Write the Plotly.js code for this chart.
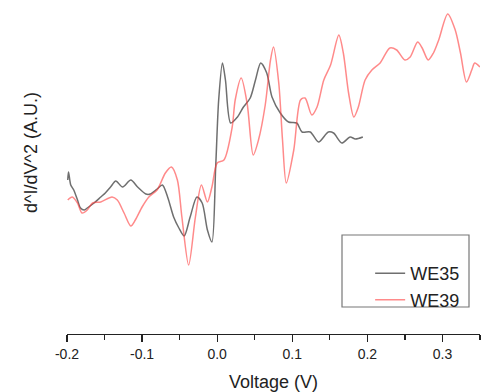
<!DOCTYPE html>
<html>
<head>
<meta charset="utf-8">
<script src="https://cdn.plot.ly/plotly-3.0.1.min.js"></script>
<style>html,body{margin:0;padding:0;background:#fff;}#chart{width:483px;height:392px;}</style>
</head>
<body>
<div id="chart"></div>
<script>
// WE35 (gray) — voltage (V) and d^2I/dV^2 (A.U.)
const we35V = [-0.199,-0.198,-0.195,-0.191,-0.186,-0.182,-0.177,-0.173,-0.164,-0.155,-0.149,-0.142,-0.135,-0.126,-0.115,-0.106,-0.095,-0.089,-0.080,-0.073,-0.066,-0.058,-0.051,-0.044,-0.036,-0.027,-0.020,-0.013,-0.007,-0.002,0.002,0.007,0.011,0.018,0.027,0.035,0.044,0.051,0.058,0.066,0.073,0.084,0.095,0.106,0.113,0.124,0.135,0.148,0.155,0.166,0.177,0.184,0.194];
const we35Y = [1.54,1.62,1.49,1.44,1.34,1.26,1.24,1.26,1.31,1.37,1.41,1.47,1.53,1.47,1.54,1.47,1.40,1.40,1.45,1.49,1.37,1.17,1.06,0.98,1.17,1.37,1.31,1.04,0.92,1.67,2.34,2.71,2.54,2.11,2.17,2.27,2.36,2.54,2.71,2.61,2.37,2.21,2.12,2.11,2.02,2.02,1.92,2.02,2.01,1.91,1.97,1.95,1.97];

// WE39 (red)
const we39V = [-0.199,-0.193,-0.186,-0.180,-0.173,-0.166,-0.155,-0.140,-0.133,-0.124,-0.115,-0.109,-0.100,-0.091,-0.080,-0.069,-0.061,-0.053,-0.047,-0.038,-0.029,-0.021,-0.013,-0.007,0.000,0.009,0.020,0.024,0.032,0.040,0.048,0.055,0.064,0.071,0.075,0.082,0.087,0.092,0.102,0.111,0.117,0.126,0.133,0.142,0.151,0.162,0.168,0.175,0.182,0.188,0.197,0.206,0.217,0.230,0.239,0.250,0.257,0.267,0.273,0.281,0.288,0.295,0.307,0.317,0.324,0.332,0.339,0.343,0.350];
const we39Y = [1.34,1.37,1.31,1.21,1.24,1.31,1.32,1.37,1.34,1.21,1.08,1.14,1.27,1.37,1.44,1.61,1.67,1.54,1.17,0.69,1.17,1.49,1.32,1.47,1.71,1.74,2.07,2.34,2.56,2.30,1.79,1.94,2.29,2.74,2.87,2.51,1.94,1.51,1.84,2.34,2.36,2.19,2.27,2.54,2.69,2.99,2.81,2.41,2.17,2.27,2.54,2.64,2.71,2.86,2.84,2.74,2.77,2.92,2.86,2.74,2.81,2.94,3.20,3.04,2.81,2.52,2.64,2.71,2.67];

const tickVals = [-0.2,-0.1,0.0,0.1,0.2,0.3];
const tickText = ["-0.2","-0.1","0.0","0.1","0.2","0.3"];
const seriesNames = ["WE35","WE39"];

const font = "Liberation Sans, Arial, sans-serif";

const data = [
  {x: we35V, y: we35Y, name: seriesNames[0], type: 'scatter', mode: 'lines',
   line: {color: 'rgba(50,50,50,0.7)', width: 1.5, shape: 'spline', smoothing: 0.8}},
  {x: we39V, y: we39Y, name: seriesNames[1], type: 'scatter', mode: 'lines',
   line: {color: 'rgba(255,60,60,0.6)', width: 1.5, shape: 'spline', smoothing: 0.8}}
];

const layout = {
  width: 483, height: 392,
  margin: {l: 67, r: 3, t: 4, b: 58},
  paper_bgcolor: '#fff', plot_bgcolor: '#fff',
  font: {family: font, color: '#222'},
  showlegend: true,
  legend: {x: 0.734, xanchor: 'left', y: 0.239, yanchor: 'top', bgcolor: 'rgba(0,0,0,0)',
           borderwidth: 0, font: {size: 18, family: font, color: '#222'}, tracegroupgap: 0},
  xaxis: {
    range: [-0.2, 0.35], showgrid: false, zeroline: false,
    showline: true, linecolor: '#222', linewidth: 1.3,
    ticks: 'outside', ticklen: 7, tickwidth: 1.3, tickcolor: '#222',
    tickvals: tickVals, ticktext: tickText,
    tickfont: {size: 14, family: font, color: '#222'},
    minor: {dtick: 0.05, tick0: 0, ticks: 'outside', ticklen: 5, tickwidth: 1.2, tickcolor: '#222'},
    title: {text: 'Voltage (V)', font: {size: 18, family: font, color: '#222'}, standoff: 14}
  },
  yaxis: {
    range: [0, 3.30], showgrid: false, zeroline: false, showline: false,
    showticklabels: false, ticks: ''
  },
  shapes: [
    {type: 'rect', xref: 'paper', yref: 'paper',
     x0: (342-67)/413, x1: (469-67)/413, y0: (334-307)/330, y1: (334-235)/330,
     line: {color: '#777', width: 1.2}, fillcolor: 'rgba(0,0,0,0)'}
  ],
  annotations: [
    {text: 'd^I/dV^2 (A.U.)', xref: 'paper', yref: 'paper', x: (31-67)/413, y: (334-153)/330,
     textangle: -90, showarrow: false, font: {size: 18, family: font, color: '#222'},
     xanchor: 'center', yanchor: 'middle'}
  ]
};

Plotly.newPlot('chart', data, layout, {displayModeBar: false, staticPlot: true});
</script>
</body>
</html>
